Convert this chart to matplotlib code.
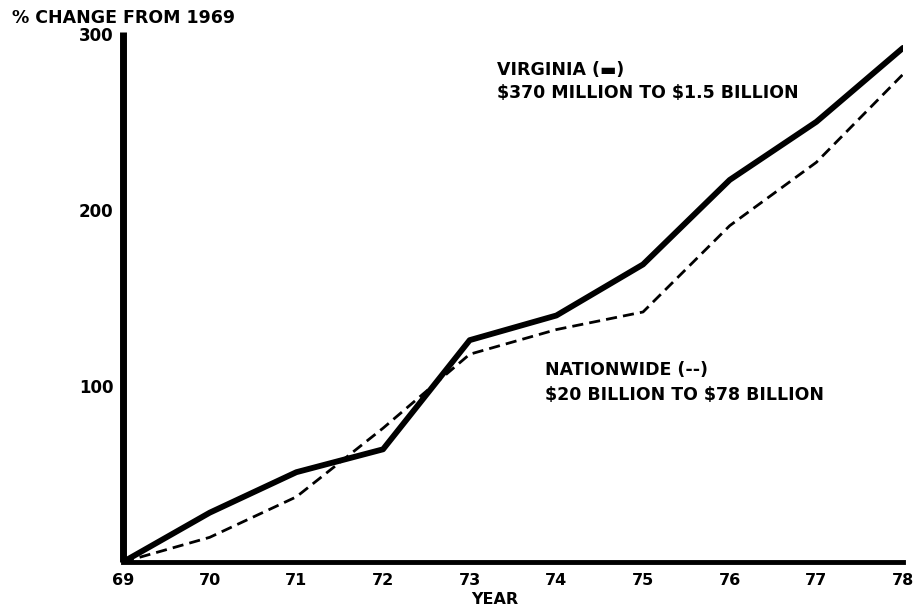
import matplotlib
matplotlib.use("Agg")
import matplotlib.pyplot as plt

# Values (% change from 1969)
years = [69, 70, 71, 72, 73, 74, 75, 76, 77, 78]
virginia = [0, 28, 51, 64, 126, 140, 169, 217, 250, 292]
nationwide = [0, 14, 37, 76, 118, 132, 142, 191, 227, 277]

x_ticks = [69, 70, 71, 72, 73, 74, 75, 76, 77, 78]
y_ticks = [100, 200, 300]

plt.rcParams['font.family'] = ['DejaVu Sans']
plt.rcParams['font.weight'] = 'bold'
plt.rcParams['text.parse_math'] = False

fig = plt.figure(figsize=(9.14, 6.10), dpi=100)
ax = fig.add_axes([0.1346, 0.0787, 0.8534, 0.8688])

ax.plot(years, virginia, color='black', lw=4.2, solid_joinstyle='round',
        solid_capstyle='round')
ax.plot(years, nationwide, color='black', lw=2.0, dashes=(4, 2.2))

ax.set_xlim(69, 78)
ax.set_ylim(0, 301)

ax.set_xticks(x_ticks)
ax.set_xticklabels([str(v) for v in x_ticks], fontsize=11.5, fontweight='bold')
ax.set_yticks(y_ticks)
ax.set_yticklabels([str(v) for v in y_ticks], fontsize=12, fontweight='bold')
ax.tick_params(axis='both', length=0)
ax.tick_params(axis='x', pad=8)
ax.tick_params(axis='y', pad=7)

for side in ['top', 'right']:
    ax.spines[side].set_visible(False)
ax.spines['left'].set_linewidth(5)
ax.spines['bottom'].set_linewidth(3.5)
ax.spines['left'].set_capstyle('butt')

fig.text(12 / 914, 1 - 18 / 610, "% CHANGE FROM 1969", fontsize=12.5,
         fontweight='bold', va='center', ha='left')
fig.text(495 / 914, 1 - 600 / 610, "YEAR", fontsize=11.5,
         fontweight='bold', va='center', ha='center')

fig.text(497 / 914, 1 - 70 / 610, "VIRGINIA (\u25ac)", fontsize=12.5,
         fontweight='bold', va='center', ha='left')
fig.text(497 / 914, 1 - 93 / 610, "$370 MILLION TO $1.5 BILLION", fontsize=12.5,
         fontweight='bold', va='center', ha='left')
fig.text(545 / 914, 1 - 370 / 610, "NATIONWIDE (--)", fontsize=12.5,
         fontweight='bold', va='center', ha='left')
fig.text(545 / 914, 1 - 395 / 610, "$20 BILLION TO $78 BILLION", fontsize=12.5,
         fontweight='bold', va='center', ha='left')

fig.savefig("out.png", dpi=100)
